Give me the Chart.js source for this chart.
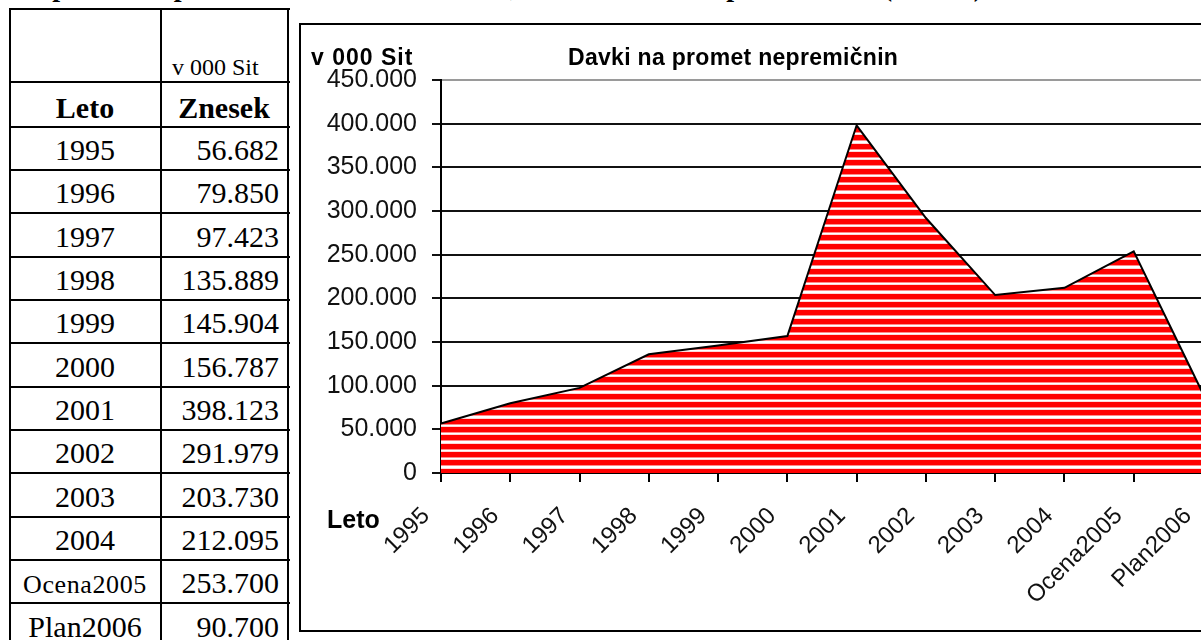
<!DOCTYPE html>
<html><head><meta charset="utf-8">
<script src="https://cdn.jsdelivr.net/npm/chart.js@4.4.1/dist/chart.umd.min.js"></script>
<style>
html,body{margin:0;padding:0;width:1201px;height:640px;overflow:hidden;background:#fff;}
.t{position:absolute;white-space:nowrap;line-height:1;font-family:"Liberation Serif","Times New Roman",serif;color:#000;}
.ln{position:absolute;background:#000;}
#box{position:absolute;left:299px;top:23px;width:1000px;height:605px;border:2px solid #000;}
#wrap{position:absolute;left:302px;top:27px;width:920px;height:603px;}
</style></head><body>
<div id="table"></div>
<div id="box"></div>
<div id="wrap"><canvas id="c" width="920" height="603"></canvas></div>
<script>
// ---- data ----
const categories = ['1995','1996','1997','1998','1999','2000','2001','2002','2003','2004','Ocena2005','Plan2006'];
const amounts = [56682, 79850, 97423, 135889, 145904, 156787, 398123, 291979, 203730, 212095, 253700, 90700];
const yTickValues = [0, 50000, 100000, 150000, 200000, 250000, 300000, 350000, 400000, 450000];
const pageHeading = 'Davki na promet nepremičnin v letih 1995–2004, ocena za 2005 in plan za 2006 (000 Sit).';
const tableUnit = 'v 000 Sit';
const tableHeaders = ['Leto', 'Znesek'];
const chartTitle = 'Davki na promet nepremičnin';
const unitLabel = 'v 000 Sit';
const xAxisTitle = 'Leto';

function fmt(n){ return String(n).replace(/\B(?=(\d{3})+(?!\d))/g, '.'); }

// ---- page heading & table (HTML text) ----
const body = document.body;
function addText(str, opts){
  const d = document.createElement('div');
  d.className = 't';
  d.textContent = str;
  const size = opts.size;
  d.style.fontSize = size + 'px';
  if (opts.bold) d.style.fontWeight = 'bold';
  if (opts.ls) d.style.letterSpacing = opts.ls + 'px';
  d.style.top = (opts.baseline - 0.8375 * size) + 'px';
  if (opts.align === 'center') { d.style.left = opts.x + 'px'; d.style.transform = 'translateX(-50%)'; }
  else if (opts.align === 'right') { d.style.right = (1201 - opts.x) + 'px'; }
  else d.style.left = opts.x + 'px';
  body.appendChild(d);
  return d;
}
function addLine(l, t, w, h){
  const d = document.createElement('div');
  d.className = 'ln';
  d.style.left = l + 'px'; d.style.top = t + 'px'; d.style.width = w + 'px'; d.style.height = h + 'px';
  document.getElementById('table').appendChild(d);
}
addText(pageHeading, {size: 28, bold: true, baseline: -4, x: 990, align: 'right'});

const rowH = 43.36;
const firstRowTop = 125.5;
const hLines = [8, 81, firstRowTop];
categories.forEach((c, i) => hLines.push(firstRowTop + (i + 1) * rowH));
hLines.forEach(y => addLine(9, y, 281, 2));
[9, 160, 287].forEach(x => addLine(x, 8, 2, 640));

addText(tableUnit, {size: 24, baseline: 75, x: 172});
addText(tableHeaders[0], {size: 30, bold: true, baseline: 118, x: 85, align: 'center'});
addText(tableHeaders[1], {size: 30, bold: true, baseline: 118, x: 224, align: 'center'});
categories.forEach((c, i) => {
  const top = firstRowTop + i * rowH;
  const small = c.indexOf('Ocena') === 0;
  addText(c, {size: small ? 26 : 30, ls: small ? 0.6 : 0, baseline: top + 34.5, x: 85, align: 'center'});
  addText(fmt(amounts[i]), {size: 30, baseline: top + 34.5, x: 279, align: 'right'});
});

// ---- stripe pattern ----
const pc = document.createElement('canvas');
pc.width = 4; pc.height = 25;
const p = pc.getContext('2d');
p.fillStyle = '#ffffff'; p.fillRect(0, 0, 4, 25);
[0, 8, 17].forEach(s => {
  p.fillStyle = '#ff0000'; p.fillRect(0, s, 4, 5);
  p.fillStyle = '#ff8a8a'; p.fillRect(0, s + 5, 4, 1);
  p.fillStyle = '#ffd6d6'; p.fillRect(0, s - 1 < 0 ? 24 : s - 1, 4, 1);
});
const ctxMain = document.getElementById('c').getContext('2d');
const stripes = ctxMain.createPattern(pc, 'repeat');

const FONT = '"Liberation Sans", Arial, sans-serif';
const textPlugin = {
  id: 'texts',
  afterDraw(chart){
    const ctx = chart.ctx;
    ctx.save();
    ctx.fillStyle = '#000';
    ctx.textBaseline = 'alphabetic';
    ctx.textAlign = 'left';
    ctx.font = 'bold 23px ' + FONT;
    ctx.letterSpacing = '1px';
    ctx.fillText(unitLabel, 9, 38);
    ctx.letterSpacing = '0.3px';
    ctx.fillText(chartTitle, 266, 38);
    ctx.letterSpacing = '0px';
    ctx.font = 'bold 25px ' + FONT;
    ctx.fillText(xAxisTitle, 25, 501);
    ctx.restore();
  }
};

new Chart(ctxMain, {
  type: 'line',
  data: {
    labels: categories,
    datasets: [{
      data: amounts,
      fill: 'origin',
      backgroundColor: stripes,
      borderColor: '#000',
      borderWidth: 2,
      pointRadius: 0,
      tension: 0
    }]
  },
  options: {
    responsive: false,
    animation: false,
    devicePixelRatio: 1,
    layout: { padding: { left: 0, top: 53, right: 19, bottom: 0 } },
    plugins: { legend: { display: false }, tooltip: { enabled: false }, title: { display: false } },
    scales: {
      x: {
        type: 'category',
        offset: false,
        grid: { display: true, drawOnChartArea: false, drawTicks: true, tickLength: 9, color: '#000', lineWidth: 2 },
        border: { display: true, color: '#000', width: 2 },
        ticks: { autoSkip: false, maxRotation: 45, minRotation: 45, padding: 20, labelOffset: -15, color: '#111', font: { family: FONT, size: 24 } },
        afterFit(s){ s.height = 157; s.paddingLeft = 0; s.paddingRight = 0; }
      },
      y: {
        min: 0, max: 450000,
        afterBuildTicks(s){ s.ticks = yTickValues.map(v => ({ value: v })); },
        ticks: { padding: 15, color: '#111', font: { family: FONT, size: 25 }, callback: v => fmt(v) },
        grid: {
          color: c => (c.tick && c.tick.value === 450000) ? '#9a9a9a' : '#111',
          tickColor: '#111',
          lineWidth: 2, tickLength: 9, drawTicks: true
        },
        border: { display: true, color: '#000', width: 2 },
        afterFit(s){ s.width = 139; s.paddingTop = 0; s.paddingBottom = 0; }
      }
    }
  },
  plugins: [textPlugin]
});
</script>
</body></html>
